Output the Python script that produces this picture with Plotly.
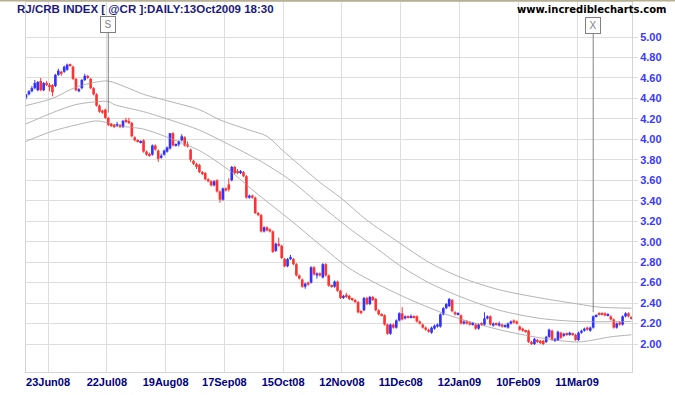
import plotly.graph_objects as go

# ---------------- data ----------------
first_bar = -7  # bar index of the first bar (index 0 = 23Jun08)
opens = [4.41,4.44,4.47,4.50,4.48,4.57,4.48,
 4.55,4.53,4.53,4.52,4.63,4.66,4.66,4.68,4.73,4.71,
 4.59,4.47,4.50,4.58,4.62,4.59,4.50,4.44,4.33,4.28,
 4.29,4.21,4.15,4.14,4.13,4.14,4.12,4.18,4.17,4.16,
 4.02,3.99,3.97,3.99,3.88,3.85,3.85,3.94,3.89,3.82,
 3.85,3.88,3.91,4.06,3.94,3.95,3.99,4.02,3.95,3.90,
 3.79,3.76,3.75,3.68,3.67,3.61,3.59,3.55,3.60,3.49,
 3.41,3.52,3.56,3.60,3.73,3.69,3.67,3.68,3.64,3.43,
 3.45,3.43,3.28,3.26,3.10,3.14,3.12,3.10,2.91,2.98,
 2.96,2.83,2.76,2.83,2.83,2.78,2.67,2.63,2.56,2.60,
 2.60,2.75,2.67,2.69,2.65,2.78,2.67,2.57,2.56,2.61,
 2.52,2.45,2.48,2.47,2.44,2.43,2.41,2.32,2.33,2.45,
 2.39,2.46,2.44,2.33,2.29,2.28,2.19,2.10,2.19,2.16,
 2.23,2.30,2.25,2.27,2.26,2.27,2.27,2.22,2.19,2.16,
 2.14,2.11,2.15,2.17,2.17,2.29,2.35,2.37,2.43,2.31,
 2.29,2.28,2.20,2.22,2.21,2.19,2.19,2.15,2.20,2.19,
 2.25,2.27,2.18,2.20,2.18,2.19,2.17,2.16,2.20,2.23,
 2.22,2.17,2.15,2.13,2.13,2.02,2.00,2.04,2.03,2.03,
 2.02,2.07,2.13,2.03,2.04,2.11,2.08,2.10,2.09,2.10,
 2.09,2.04,2.11,2.13,2.16,2.13,2.16,2.27,2.30,2.30,
 2.30,2.28,2.27,2.24,2.16,2.21,2.19,2.27,2.30,2.26]
highs = [4.44,4.48,4.52,4.58,4.57,4.60,4.56,
 4.57,4.55,4.54,4.64,4.69,4.67,4.72,4.74,4.74,4.72,
 4.60,4.50,4.59,4.64,4.63,4.60,4.51,4.45,4.34,4.29,
 4.30,4.22,4.16,4.15,4.17,4.15,4.19,4.21,4.21,4.17,
 4.03,4.00,3.99,4.00,3.89,3.87,3.95,3.95,3.90,3.86,
 3.90,3.93,4.06,4.07,3.96,3.99,4.05,4.03,3.98,3.91,
 3.80,3.77,3.76,3.69,3.68,3.62,3.60,3.60,3.61,3.50,
 3.53,3.53,3.62,3.74,3.74,3.71,3.70,3.69,3.65,3.46,
 3.46,3.44,3.29,3.27,3.15,3.15,3.13,3.11,2.99,3.04,
 2.97,2.84,2.84,2.87,2.84,2.79,2.68,2.64,2.60,2.61,
 2.76,2.76,2.70,2.70,2.79,2.79,2.68,2.58,2.62,2.62,
 2.53,2.48,2.50,2.48,2.45,2.44,2.42,2.33,2.46,2.46,
 2.47,2.47,2.45,2.34,2.30,2.29,2.20,2.20,2.20,2.24,
 2.31,2.36,2.28,2.28,2.29,2.28,2.28,2.23,2.20,2.17,
 2.15,2.17,2.19,2.20,2.30,2.36,2.40,2.45,2.44,2.32,
 2.31,2.29,2.23,2.23,2.22,2.21,2.20,2.20,2.21,2.31,
 2.28,2.28,2.21,2.21,2.22,2.20,2.19,2.21,2.23,2.24,
 2.23,2.18,2.16,2.14,2.14,2.03,2.06,2.05,2.04,2.04,
 2.08,2.15,2.14,2.06,2.13,2.12,2.11,2.11,2.12,2.11,
 2.10,2.12,2.14,2.16,2.17,2.17,2.28,2.29,2.31,2.31,
 2.31,2.30,2.28,2.25,2.21,2.22,2.28,2.31,2.31,2.27]
lows = [4.39,4.43,4.46,4.49,4.47,4.47,4.47,
 4.52,4.47,4.42,4.51,4.62,4.62,4.65,4.67,4.71,4.58,
 4.47,4.46,4.49,4.57,4.59,4.49,4.43,4.32,4.26,4.25,
 4.20,4.13,4.12,4.11,4.12,4.11,4.11,4.16,4.15,4.02,
 3.98,3.97,3.96,3.87,3.84,3.83,3.84,3.89,3.78,3.81,
 3.84,3.87,3.90,3.93,3.93,3.93,3.98,3.93,3.92,3.78,
 3.75,3.71,3.67,3.65,3.60,3.58,3.54,3.54,3.48,3.38,
 3.40,3.49,3.49,3.59,3.66,3.66,3.66,3.63,3.42,3.42,
 3.42,3.27,3.25,3.09,3.09,3.10,3.09,2.89,2.90,2.95,
 2.83,2.75,2.75,2.82,2.77,2.66,2.63,2.55,2.54,2.57,
 2.59,2.67,2.64,2.66,2.64,2.66,2.56,2.55,2.55,2.51,
 2.44,2.44,2.45,2.43,2.42,2.40,2.30,2.29,2.32,2.38,
 2.38,2.42,2.32,2.28,2.27,2.18,2.09,2.09,2.15,2.15,
 2.22,2.23,2.24,2.25,2.25,2.25,2.21,2.19,2.15,2.13,
 2.11,2.10,2.14,2.16,2.16,2.28,2.34,2.36,2.31,2.28,
 2.28,2.19,2.19,2.19,2.18,2.18,2.14,2.14,2.18,2.18,
 2.24,2.18,2.17,2.18,2.17,2.16,2.16,2.15,2.19,2.20,
 2.19,2.13,2.12,2.11,2.01,1.99,1.99,2.01,2.00,1.99,
 2.01,2.06,2.03,2.02,2.03,2.05,2.07,2.08,2.08,2.08,
 2.03,2.03,2.10,2.12,2.13,2.12,2.15,2.26,2.28,2.28,
 2.27,2.27,2.23,2.15,2.15,2.18,2.18,2.26,2.26,2.24]
closes = [4.44,4.47,4.50,4.55,4.56,4.48,4.55,
 4.53,4.52,4.46,4.63,4.67,4.64,4.71,4.73,4.72,4.59,
 4.48,4.49,4.58,4.62,4.60,4.50,4.44,4.33,4.27,4.26,
 4.21,4.14,4.14,4.13,4.15,4.12,4.18,4.17,4.16,4.03,
 3.99,3.98,3.98,3.88,3.85,3.84,3.94,3.90,3.81,3.84,
 3.89,3.92,4.06,3.94,3.95,3.98,4.03,3.94,3.93,3.80,
 3.76,3.73,3.68,3.66,3.61,3.59,3.55,3.59,3.49,3.41,
 3.52,3.50,3.51,3.73,3.67,3.67,3.69,3.64,3.43,3.45,
 3.43,3.28,3.26,3.10,3.14,3.11,3.10,2.90,2.98,2.96,
 2.84,2.76,2.83,2.85,2.78,2.67,2.64,2.56,2.59,2.58,
 2.75,2.68,2.69,2.67,2.78,2.67,2.57,2.56,2.61,2.52,
 2.45,2.47,2.46,2.44,2.43,2.41,2.31,2.31,2.45,2.39,
 2.46,2.43,2.33,2.29,2.28,2.19,2.10,2.19,2.16,2.23,
 2.30,2.24,2.27,2.26,2.27,2.26,2.22,2.20,2.16,2.14,
 2.12,2.16,2.18,2.19,2.29,2.35,2.39,2.44,2.32,2.29,
 2.30,2.20,2.22,2.20,2.19,2.20,2.15,2.19,2.19,2.25,
 2.27,2.19,2.20,2.19,2.20,2.17,2.18,2.20,2.22,2.21,
 2.20,2.14,2.13,2.12,2.02,2.00,2.05,2.02,2.01,2.00,
 2.07,2.14,2.04,2.05,2.12,2.06,2.10,2.09,2.11,2.09,
 2.04,2.11,2.13,2.15,2.14,2.16,2.27,2.28,2.29,2.29,
 2.28,2.29,2.24,2.16,2.20,2.19,2.27,2.30,2.27,2.25]

# date labels of the vertical grid (every 20 trading days)
date_labels = ["23Jun08","22Jul08","19Aug08","17Sep08","15Oct08",
               "12Nov08","11Dec08","12Jan09","10Feb09","11Mar09"]
date_label_bars = [0, 20, 40, 60, 80, 100, 120, 140, 160, 180]

# the three grey average / band lines (bar index, value)
upper_idx = [-7, 2, 10, 17, 21, 27, 33, 42, 52, 59, 69, 75, 80, 86, 93, 100, 109, 120, 130, 141, 154, 168, 181, 188, 199]
upper_val = [4.33, 4.40, 4.51, 4.56, 4.57, 4.51, 4.44, 4.37, 4.29, 4.19, 4.09, 4.03, 3.90, 3.75, 3.58, 3.43, 3.21, 2.99, 2.80, 2.65, 2.53, 2.45, 2.39, 2.36, 2.35]
mid_idx = [-7, 2, 10, 21, 23, 27, 33, 42, 52, 62, 72, 83, 93, 103, 113, 120, 130, 141, 154, 168, 181, 199]
mid_val = [4.15, 4.26, 4.34, 4.37, 4.34, 4.31, 4.27, 4.19, 4.09, 3.95, 3.80, 3.60, 3.36, 3.13, 2.92, 2.77, 2.60, 2.46, 2.33, 2.25, 2.22, 2.22]
lower_idx = [-7, 2, 10, 17, 21, 25, 33, 42, 52, 62, 72, 83, 93, 103, 113, 124, 137, 154, 168, 181, 192, 199]
lower_val = [3.98, 4.08, 4.14, 4.18, 4.16, 4.13, 4.10, 4.01, 3.89, 3.70, 3.46, 3.21, 2.97, 2.74, 2.58, 2.43, 2.28, 2.14, 2.06, 2.02, 2.07, 2.09]

y_ticks = [2.0, 2.2, 2.4, 2.6, 2.8, 3.0, 3.2, 3.4, 3.6, 3.8, 4.0, 4.2, 4.4, 4.6, 4.8, 5.0]

signal_bars = [21, 186]
signal_vals = [4.26, 2.31]
signal_text = ["S", "X"]

# ---------------- figure ----------------
bars = list(range(first_bar, first_bar + len(closes)))

UP = "#3333ff"
DOWN = "#ff3333"
MA = "#b4b4b4"
GRID = "#dedede"

fig = go.Figure()
for xs, ys in ((upper_idx, upper_val), (mid_idx, mid_val), (lower_idx, lower_val)):
    fig.add_trace(go.Scatter(x=xs, y=ys, mode="lines", line=dict(color=MA, width=1, shape="spline", smoothing=0.8),
                             hoverinfo="skip"))

# candles: wicks as line segments, bodies as floating bars
for is_up, col in ((True, UP), (False, DOWN)):
    wx, wy, bx, bbase, bh = [], [], [], [], []
    for b, o, h, l, c in zip(bars, opens, highs, lows, closes):
        if (c >= o) != is_up:
            continue
        wx += [b, b, None]
        wy += [l, h, None]
        bx.append(b)
        bbase.append(min(o, c))
        bh.append(abs(c - o))
    fig.add_trace(go.Scatter(x=wx, y=wy, mode="lines", line=dict(color=col, width=1), hoverinfo="skip"))
    fig.add_trace(go.Bar(x=bx, y=bh, base=bbase, width=0.9, marker=dict(color=col, line=dict(width=0))))

for b, v, t in zip(signal_bars, signal_vals, signal_text):
    fig.add_annotation(x=b, y=v, xref="x", yref="y", text=t, showarrow=True,
                       arrowhead=0, arrowwidth=1, arrowcolor="#808080", ax=0,
                       ay=-(344 - (v - 2) * 102.33 - 25), standoff=0,
                       font=dict(family="Liberation Sans, Arial", size=10, color="#808080"),
                       bgcolor="white", bordercolor="#808080", borderwidth=1, borderpad=1,
                       width=12, height=13)

fig.add_annotation(xref="paper", yref="paper", x=-0.018, y=0.981, xanchor="left", yanchor="middle",
                   text="RJ/CRB INDEX [ @CR ]:DAILY:13Oct2009 18:30", showarrow=False,
                   font=dict(family="Liberation Sans, Arial", size=11.5, color="#1a1a80", weight="bold"))
fig.add_annotation(xref="paper", yref="paper", x=1.061, y=0.979, xanchor="right", yanchor="middle",
                   text="www.incrediblecharts.com", showarrow=False,
                   font=dict(family="DejaVu Sans", size=10, color="black", weight="bold"))

fig.add_shape(type="line", xref="paper", yref="paper", x0=-0.05, x1=1.08, y0=1.004, y1=1.004,
              line=dict(color="#b8b090", width=2))

fig.update_layout(
    width=675, height=395,
    margin=dict(l=26, r=43, t=2, b=23),
    paper_bgcolor="white", plot_bgcolor="white",
    showlegend=False, barmode="overlay",
    xaxis=dict(
        range=[first_bar, 199.2],
        tickvals=[b + 0.5 for b in date_label_bars], ticktext=date_labels,
        showgrid=True, gridcolor=GRID, gridwidth=1,
        showline=True, linecolor="#d4d4d4", linewidth=1, mirror=True,
        ticks="", zeroline=False,
        tickfont=dict(family="Liberation Sans, Arial", size=11, color="#000080", weight="bold"),
    ),
    yaxis=dict(
        side="right",
        range=[1.7264, 5.342],
        tickvals=y_ticks, ticktext=[f"{v:.2f}" for v in y_ticks],
        showgrid=True, gridcolor=GRID, gridwidth=1,
        showline=True, linecolor="#d4d4d4", linewidth=1, mirror=True,
        ticks="outside", ticklen=5, tickcolor=GRID, zeroline=False,
        tickfont=dict(family="Liberation Sans, Arial", size=11, color="#3838ff", weight="bold"),
    ),
)

fig.write_html("out.html")
